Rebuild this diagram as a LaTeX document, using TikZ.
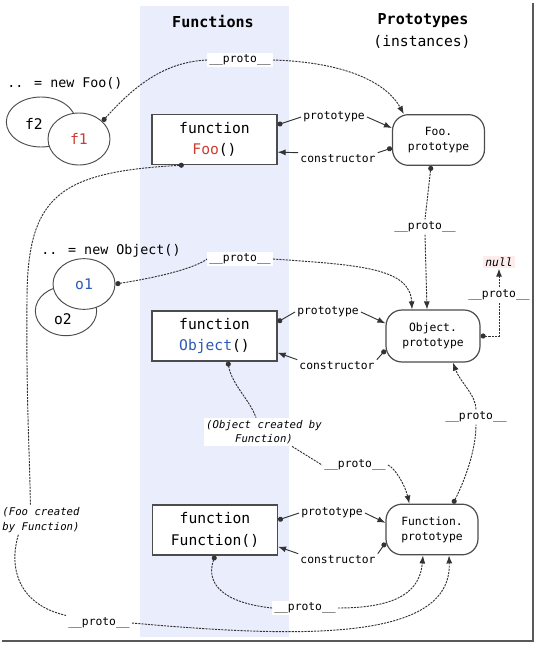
\documentclass[tikz,border=0pt]{standalone}
\usepackage{fontspec}
\setmainfont{DejaVu Sans Mono}
\usetikzlibrary{shapes.geometric,arrows.meta}
\definecolor{bandblue}{RGB}{234,238,252}
\definecolor{foored}{RGB}{205,60,50}
\definecolor{objblue}{RGB}{45,90,180}
\definecolor{nullbg}{RGB}{252,236,236}

\begin{document}
\begin{tikzpicture}[x=0.75pt,y=-0.75pt,
  fnbox/.style={draw=black!70, line width=0.9pt, fill=white, minimum width=93.75pt,
    minimum height=37.5pt, inner sep=0pt, align=center, font=\fontsize{11}{16}\selectfont},
  protobox/.style={draw=black!70, line width=0.9pt, fill=white, rounded corners=12pt,
    minimum width=69pt, minimum height=38pt, inner sep=0pt, align=center,
    font=\fontsize{8.5}{11.25}\selectfont},
  inst/.style={ellipse, draw=black!70, line width=0.7pt, fill=white, inner sep=0pt,
    font=\fontsize{11}{13}\selectfont},
  big/.style={font=\fontsize{11}{13}\selectfont},
  hd/.style={font=\fontsize{11.3}{14}\bfseries\selectfont},
  lbl/.style={fill=white, inner sep=1.5pt, font=\fontsize{8.5}{10}\selectfont},
  note/.style={fill=white, inner sep=1.5pt, align=center, font=\fontsize{8}{11}\itshape\selectfont},
  ln/.style={line width=0.7pt, black!80},
  dt/.style={ln, dash pattern=on 1.6pt off 0.8pt},
  src/.style={{Circle[length=3.8pt]}-},
  tgt/.style={-{Latex[length=6pt,width=4.5pt]}}]
  \newcommand\protolbl{\_\_proto\_\_}
  \useasboundingbox (0,0) rectangle (536,646);
  \fill[bandblue] (140,6) rectangle (289,637);
  \draw[black!65, line width=1.5pt] (533,3) -- (533,641) -- (2,641);

  \node[hd] (hfun) at (213,21) {Functions};
  \node[hd] (hpro) at (423,21) {Prototypes};
  \node[big] (hinst) at (422,42) {(instances)};

  % instances
  \node[font=\fontsize{10}{12}\selectfont] (newfoo) at (65,83) {.. = new Foo()};
  \node[inst, minimum width=52pt, minimum height=37.5pt] (f2) at (41,122) {};
  \node[big] (f2txt) at (34,124) {f2};
  \node[inst, minimum width=46.5pt, minimum height=39pt] (f1) at (79,139) {\textcolor{foored}{f1}};
  \node[font=\fontsize{10}{12}\selectfont] (newobj) at (111,251) {.. = new Object()};
  \node[inst, minimum width=46pt, minimum height=37pt] (o2) at (66,311) {};
  \node[big] (o2txt) at (63,319) {o2};
  \node[inst, minimum width=46.5pt, minimum height=38pt] (o1) at (84,284) {\textcolor{objblue}{o1}};

  % functions and prototypes
  \node[fnbox] (foo) at (214.5,139.5) {function\\\textcolor{foored}{Foo}()};
  \node[fnbox] (obj) at (214.5,336) {function\\\textcolor{objblue}{Object}()};
  \node[fnbox] (fun) at (215,530) {function\\Function()};
  \node[protobox] (foop) at (438.5,140) {Foo.\\prototype};
  \node[protobox, minimum width=70.5pt, minimum height=39pt] (objp) at (433,336) {Object.\\prototype};
  \node[protobox] (funp) at (432,529.5) {Function.\\prototype};

  \node[lbl] (pt1) at (334,117) {prototype};
  \node[lbl] (cs1) at (338,159) {constructor};
  \node[lbl] (pt2) at (328,312) {prototype};
  \node[lbl] (cs2) at (337,366) {constructor};
  \node[lbl] (pt3) at (332,513) {prototype};
  \node[lbl] (cs3) at (338,560) {constructor};

  \node[lbl] (p1) at (240,60) {\protolbl};
  \node[lbl] (p2) at (425,227) {\protolbl};
  \node[lbl] (p3) at (240,259) {\protolbl};
  \node[lbl] (p4) at (499,295) {\protolbl};
  \node[lbl] (p5) at (355,465) {\protolbl};
  \node[lbl] (p6) at (476,417) {\protolbl};
  \node[lbl] (p7) at (305,608) {\protolbl};
  \node[lbl] (p8) at (99,623) {\protolbl};
  \node[lbl, fill=nullbg, font=\fontsize{8.5}{10}\itshape\selectfont] (null) at (499,262) {null};
  \node[note] (ocf) at (264,432) {(Object created by\\Function)};
  \node[note] (fcf) at (41,520) {(Foo created\\by Function)};

  % prototype / constructor
  \draw[ln,src] ([yshift=11pt]foo.east) -- (pt1.west);
  \draw[ln,tgt] (pt1.east) -- ([yshift=9pt]foop.west);
  \draw[ln,src] ([yshift=-6pt]foop.west) -- (cs1.north east);
  \draw[ln,tgt] (cs1.north west) -- ([yshift=-9.5pt]foo.east);
  \draw[ln,src] ([yshift=10.5pt]obj.east) -- (pt2.west);
  \draw[ln,tgt] (pt2.east) -- ([yshift=9.5pt]objp.west);
  \draw[ln,src] ([yshift=-10.5pt]objp.west) -- (cs2.north east);
  \draw[ln,tgt] (cs2.north west) -- ([yshift=-12.5pt]obj.east);
  \draw[ln,src] ([yshift=7.5pt]fun.east) -- (pt3.west);
  \draw[ln,tgt] (pt3.east) -- ([yshift=5pt]funp.west);
  \draw[ln,src] ([yshift=-10pt]funp.west) -- (cs3.north east);
  \draw[ln,tgt] (cs3.north west) -- ([yshift=-12.5pt]fun.east);

  % __proto__ chains
  \draw[dt,src] (f1.37) .. controls (135,85) and (165,62) .. (p1.west);
  \draw[dt,tgt] (p1.east) .. controls (340,62) and (385,80) .. ([xshift=-26pt]foop.north);
  \draw[dt,src] ([xshift=-5.6pt]foop.south) -- (p2.north);
  \draw[dt,tgt] (p2.south) -- ([xshift=-4.5pt]objp.north);
  \draw[dt,src] (o1.east) .. controls (160,277) and (195,268) .. (p3.west);
  \draw[dt,tgt] (p3.east) .. controls (360,265) and (410,268) .. ([xshift=-15.75pt]objp.north);
  \draw[dt,src] (objp.east) -| (p4.south);
  \draw[dt,tgt] (p4.north) -- (null.south);
  \draw[dt,src] ([xshift=10pt]obj.south) .. controls (232,385) and (250,400) .. ([xshift=-6pt]ocf.north);
  \draw[dt] ([xshift=21pt]ocf.south) -- (p5.west);
  \draw[dt,tgt] (p5.east) .. controls (395,468) and (405,485) .. ([xshift=-17pt]funp.north);
  \draw[dt,src] ([xshift=15.75pt]funp.north) .. controls (465,480) and (476,450) .. (p6.south);
  \draw[dt,tgt] (p6.north) .. controls (476,395) and (460,382) .. ([xshift=15pt]objp.south);
  \draw[dt,src] (fun.south) .. controls (205,585) and (225,603) .. (p7.west);
  \draw[dt,tgt] (p7.east) .. controls (400,608) and (420,590) .. ([xshift=-6.75pt]funp.south);
  \draw[dt,src] ([xshift=-23pt]foo.south) .. controls (60,172) and (27,195) .. (27,300)
    .. controls (26,400) and (30,460) .. ([xshift=-8pt]fcf.north);
  \draw[dt] ([xshift=-17pt]fcf.south) .. controls (8,570) and (20,605) .. (p8.north west);
  \draw[dt,tgt] (p8.east) .. controls (300,638) and (452,642) .. ([xshift=12.75pt]funp.south);
\end{tikzpicture}
\end{document}
